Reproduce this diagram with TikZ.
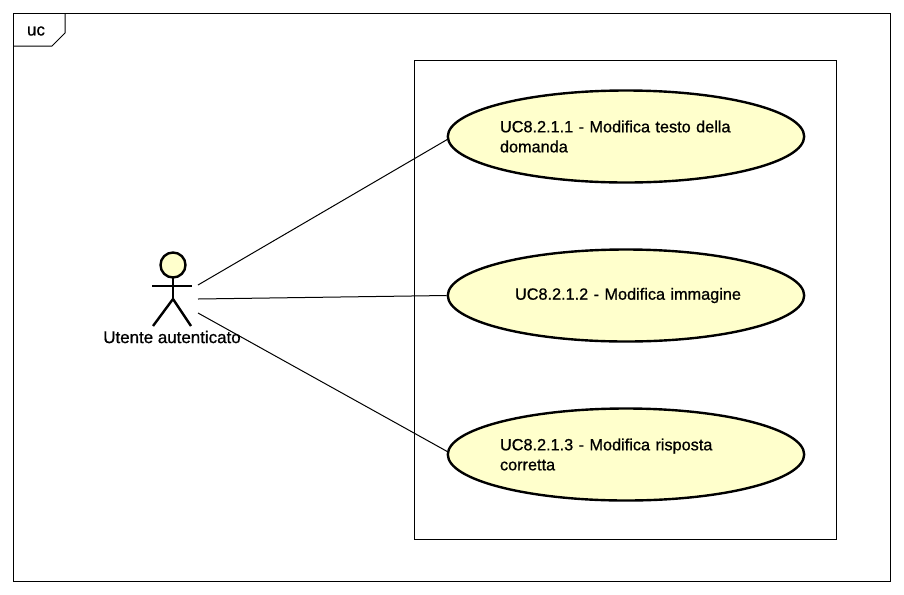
\documentclass[tikz,border=0pt]{standalone}
\usepackage{fontspec}
\setmainfont{Liberation Sans}
\newfontfamily\ucfont{Liberation Sans}[UprightFeatures={FakeBold=0.8}]
\usepackage{xcolor}
\usepackage{tikz}
\usetikzlibrary{shapes.geometric}
\definecolor{UseYellow}{RGB}{255,255,204}

\begin{document}
\begin{tikzpicture}[
  x=0.75pt,
  y=-0.75pt,
  usecase/.style={
    draw,
    ellipse,
    minimum width=267pt,
    minimum height=69pt,
    inner sep=0pt,
    text width=189pt,
    align=left,
    fill=UseYellow,
    line width=1.8pt,
    font=\ucfont\fontsize{12.2pt}{15pt}\selectfont
  },
  frameline/.style={draw,line width=0.75pt},
  stick/.style={line width=1.8pt},
  assoc/.style={line width=0.75pt},
  lab/.style={inner sep=0pt,font=\ucfont\fontsize{12.7pt}{15pt}\selectfont}
]
\useasboundingbox (0,0) rectangle (904,594);
\fill[white] (0,0) rectangle (904,594);

\draw[frameline] (13,13) rectangle (890,581);
\draw[frameline] (13,46) -- (52,46) -- (65,33) -- (65,13);
\node[lab] (frametitle) at (36,31) {uc};
\draw[frameline] (414,60) rectangle (836,539.5);

\node[usecase] (edittext) at (626,136.5) {UC8.2.1.1 - Modifica testo della\\domanda};
\node[usecase] (editimage) at (626,295.5) {\hspace*{11.25pt}UC8.2.1.2 - Modifica immagine};
\node[usecase] (editanswer) at (626,454.5) {UC8.2.1.3 - Modifica risposta\\corretta};

% actor
\draw[stick,fill=UseYellow] (173,265) circle (12.5);
\draw[stick] (173,278) -- (173,299);
\draw[stick] (152,286) -- (192,286);
\draw[stick] (153,326) -- (173,299) -- (191,326);
\node[lab] (actorname) at (172,337) {Utente autenticato};

\coordinate (actorup) at (198,285);
\coordinate (actormid) at (198,299);
\coordinate (actordown) at (198,313);

\draw[assoc] (actorup) -- (edittext.181);
\draw[assoc] (actormid) -- (editimage.west);
\draw[assoc] (actordown) -- (editanswer.179);
\end{tikzpicture}
\end{document}
